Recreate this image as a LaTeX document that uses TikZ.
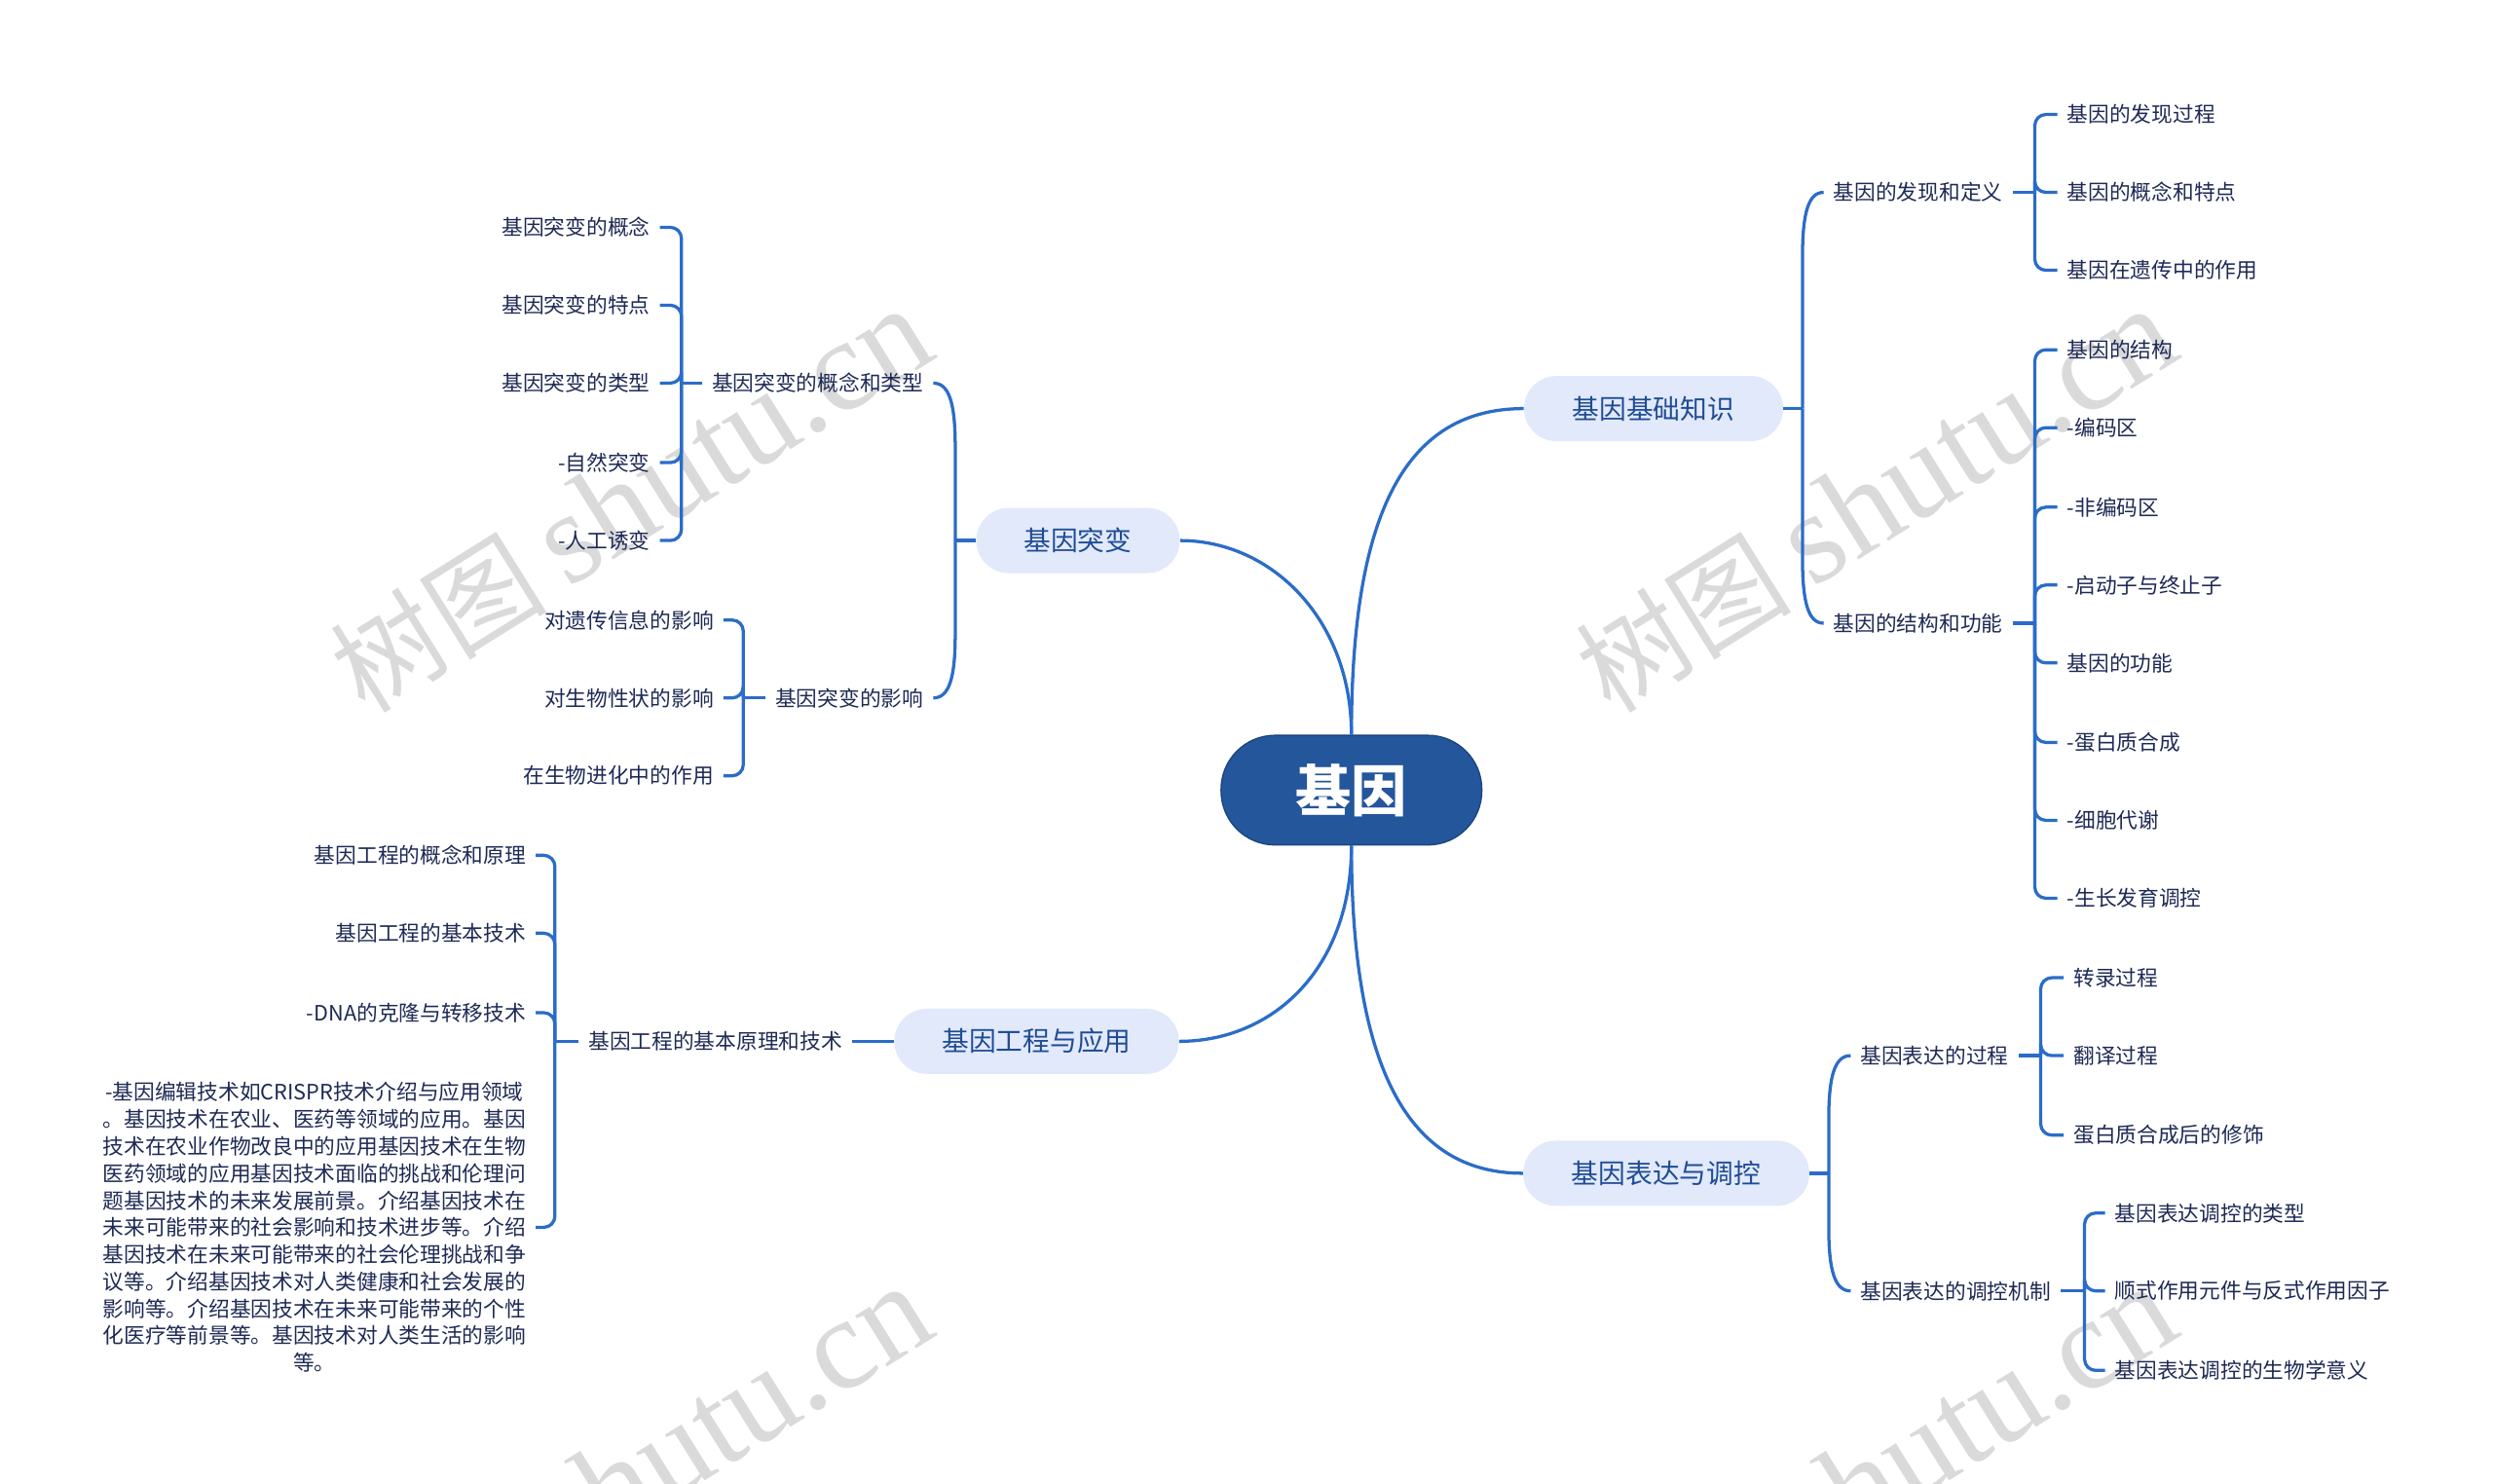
\documentclass[tikz,border=0pt]{standalone}
\usepackage{fontspec}
\setmainfont{Noto Sans CJK SC}
\newfontfamily\wmserif{Liberation Serif}
\usetikzlibrary{calc}
\definecolor{linec}{HTML}{2B6CC8}
\definecolor{leaftext}{HTML}{1E2A55}
\definecolor{lonefill}{HTML}{E1E9FB}
\definecolor{lonetext}{HTML}{1F4C94}
\definecolor{rootfill}{HTML}{24569C}
\definecolor{rootline}{HTML}{1A447F}
\definecolor{wmgray}{HTML}{DADADA}
\newcommand\brR[3]{\draw[conn] let \p1=(#1), \p2=(#2.west) in (\p1) -- (\x1,\y2#340pt) .. controls (\x1,\y2#312pt) and (\x1+4pt,\y2) .. (\p2);}
\newcommand\brL[3]{\draw[conn] let \p1=(#1), \p2=(#2.east) in (\p1) -- (\x1,\y2#340pt) .. controls (\x1,\y2#312pt) and (\x1-4pt,\y2) .. (\p2);}
\newcommand\lfR[2]{\draw[conn,rounded corners=7] (#1) |- (#2.west);}
\newcommand\lfL[2]{\draw[conn,rounded corners=7] (#1) |- (#2.east);}
\newcommand\wmtext{{\fontsize{68}{70}\selectfont 树图}\hspace{14pt}{\wmserif\fontsize{82}{90}\selectfont shutu.cn}}
\begin{document}
\begin{tikzpicture}[x=1pt,y=-1pt,
  conn/.style={draw=linec,line width=2.0},
  leaf/.style={inner xsep=6,inner ysep=2,text=leaftext,font=\fontsize{13.3}{17}\selectfont},
  lone/.style={fill=lonefill,text=lonetext,rounded corners=20.5,minimum height=41,inner sep=0,font=\fontsize{17}{20}\selectfont},
  rootbox/.style={fill=rootfill,draw=rootline,line width=0.8,rounded corners=34,minimum width=164,minimum height=69,inner sep=0,text=white,font=\fontsize{35}{40}\selectfont\bfseries},
  wm/.style={text=wmgray,inner sep=0,rotate=32}
]
\fill[white] (0,0) rectangle (1568,933);
\useasboundingbox (0,0) rectangle (1568,933);

% watermarks
\begin{scope}
\clip (0,0) rectangle (1568,933);
\node[wm] (wm1) at (397,315) {\wmtext};
\node[wm] (wm2) at (1180,315) {\wmtext};
\node[wm] (wm3) at (397,930) {\wmtext};
\node[wm] (wm4) at (1180,930) {\wmtext};
\end{scope}

% root and main branches
\node[rootbox] (root) at (850,497) {基因};
\node[lone,minimum width=163] (n1) at (1040,257) {基因基础知识};
\node[lone,minimum width=128] (n2) at (678,340) {基因突变};
\node[lone,minimum width=179] (n3) at (652,655) {基因工程与应用};
\node[lone,minimum width=180] (n4) at (1048,738) {基因表达与调控};

\draw[conn] (root.north) .. controls (850,330) and (880,257) .. (n1.west);
\draw[conn] (root.north) .. controls (850,390) and (800,340) .. (n2.east);
\draw[conn] (root.south) .. controls (850,610) and (800,655) .. (n3.east);
\draw[conn] (root.south) .. controls (850,680) and (890,738) .. (n4.west);

% ---- 基因基础知识
\node[leaf,anchor=west] (a) at (1147,121) {基因的发现和定义};
\node[leaf,anchor=west] (b) at (1147,392) {基因的结构和功能};
\draw[conn] (n1.east) -- ++(12,0) coordinate (j1);
\brR{j1}{a}{-}
\brR{j1}{b}{+}

\node[leaf,anchor=west] (a1) at (1294,72) {基因的发现过程};
\node[leaf,anchor=west] (a2) at (1294,121) {基因的概念和特点};
\node[leaf,anchor=west] (a3) at (1294,170) {基因在遗传中的作用};
\draw[conn] (a.east) -- ++(14,0) coordinate (ja);
\lfR{ja}{a1}
\lfR{ja}{a2}
\lfR{ja}{a3}

\node[leaf,anchor=west] (b1) at (1294,220) {基因的结构};
\node[leaf,anchor=west] (b2) at (1294,269) {-编码区};
\node[leaf,anchor=west] (b3) at (1294,319) {-非编码区};
\node[leaf,anchor=west] (b4) at (1294,368) {-启动子与终止子};
\node[leaf,anchor=west] (b5) at (1294,417) {基因的功能};
\node[leaf,anchor=west] (b6) at (1294,467) {-蛋白质合成};
\node[leaf,anchor=west] (b7) at (1294,516) {-细胞代谢};
\node[leaf,anchor=west] (b8) at (1294,565) {-生长发育调控};
\draw[conn] (b.east) -- ++(14,0) coordinate (jb);
\lfR{jb}{b1}
\lfR{jb}{b2}
\lfR{jb}{b3}
\lfR{jb}{b4}
\lfR{jb}{b5}
\lfR{jb}{b6}
\lfR{jb}{b7}
\lfR{jb}{b8}

% ---- 基因突变
\node[leaf,anchor=east] (c) at (587,241) {基因突变的概念和类型};
\node[leaf,anchor=east] (d) at (587,439) {基因突变的影响};
\draw[conn] (n2.west) -- ++(-13,0) coordinate (j2);
\brL{j2}{c}{-}
\brL{j2}{d}{+}

\node[leaf,anchor=east] (c1) at (415,143) {基因突变的概念};
\node[leaf,anchor=east] (c2) at (415,192) {基因突变的特点};
\node[leaf,anchor=east] (c3) at (415,241) {基因突变的类型};
\node[leaf,anchor=east] (c4) at (415,291) {-自然突变};
\node[leaf,anchor=east] (c5) at (415,340) {-人工诱变};
\draw[conn] (c.west) -- ++(-13,0) coordinate (jc);
\lfL{jc}{c1}
\lfL{jc}{c2}
\lfL{jc}{c3}
\lfL{jc}{c4}
\lfL{jc}{c5}

\node[leaf,anchor=east] (d1) at (455,390) {对遗传信息的影响};
\node[leaf,anchor=east] (d2) at (455,439) {对生物性状的影响};
\node[leaf,anchor=east] (d3) at (455,488) {在生物进化中的作用};
\draw[conn] (d.west) -- ++(-14,0) coordinate (jd);
\lfL{jd}{d1}
\lfL{jd}{d2}
\lfL{jd}{d3}

% ---- 基因工程与应用
\node[leaf,anchor=east] (e) at (536,655) {基因工程的基本原理和技术};
\draw[conn] (n3.west) -- (e.east);

\node[leaf,anchor=east] (e1) at (337,538) {基因工程的概念和原理};
\node[leaf,anchor=east] (e2) at (337,587) {基因工程的基本技术};
\node[leaf,anchor=east] (e3) at (337,637) {-DNA的克隆与转移技术};
\node[leaf,anchor=east,align=center] (e4) at (337,772) {-基因编辑技术如CRISPR技术介绍与应用领域\\
。基因技术在农业、医药等领域的应用。基因\\
技术在农业作物改良中的应用基因技术在生物\\
医药领域的应用基因技术面临的挑战和伦理问\\
题基因技术的未来发展前景。介绍基因技术在\\
未来可能带来的社会影响和技术进步等。介绍\\
基因技术在未来可能带来的社会伦理挑战和争\\
议等。介绍基因技术对人类健康和社会发展的\\
影响等。介绍基因技术在未来可能带来的个性\\
化医疗等前景等。基因技术对人类生活的影响\\
等。};
\draw[conn] (e.west) -- ++(-15,0) coordinate (je);
\lfL{je}{e1}
\lfL{je}{e2}
\lfL{je}{e3}
\lfL{je}{e4}

% ---- 基因表达与调控
\node[leaf,anchor=west] (f) at (1164,664) {基因表达的过程};
\node[leaf,anchor=west] (g) at (1164,812) {基因表达的调控机制};
\draw[conn] (n4.east) -- ++(12,0) coordinate (j4);
\brR{j4}{f}{-}
\brR{j4}{g}{+}

\node[leaf,anchor=west] (f1) at (1298,615) {转录过程};
\node[leaf,anchor=west] (f2) at (1298,664) {翻译过程};
\node[leaf,anchor=west] (f3) at (1298,714) {蛋白质合成后的修饰};
\draw[conn] (f.east) -- ++(14,0) coordinate (jf);
\lfR{jf}{f1}
\lfR{jf}{f2}
\lfR{jf}{f3}

\node[leaf,anchor=west] (g1) at (1324,763) {基因表达调控的类型};
\node[leaf,anchor=west] (g2) at (1324,812) {顺式作用元件与反式作用因子};
\node[leaf,anchor=west] (g3) at (1324,862) {基因表达调控的生物学意义};
\draw[conn] (g.east) -- ++(15,0) coordinate (jg);
\lfR{jg}{g1}
\lfR{jg}{g2}
\lfR{jg}{g3}
\end{tikzpicture}
\end{document}
